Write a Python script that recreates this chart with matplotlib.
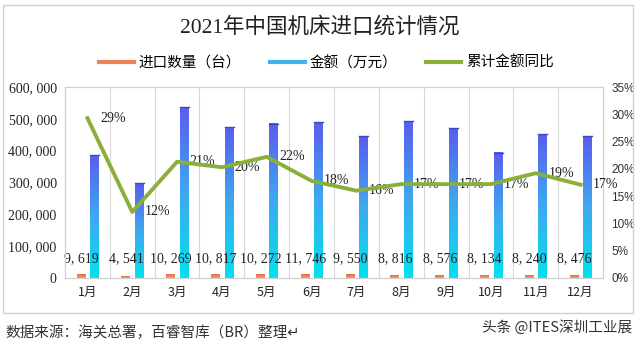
import numpy as np
import matplotlib.pyplot as plt
from matplotlib.patches import Rectangle
from matplotlib.lines import Line2D

months = ['1月', '2月', '3月', '4月', '5月', '6月', '7月', '8月', '9月', '10月', '11月', '12月']
qty = [9619, 4541, 10269, 10817, 10272, 11746, 9550, 8816, 8576, 8134, 8240, 8476]
amount = [386000, 298000, 537000, 474000, 484000, 490000, 446000, 493000, 471000, 393000, 452000, 446000]
yoy = [0.293, 0.121, 0.213, 0.203, 0.222, 0.178, 0.160, 0.172, 0.172, 0.172, 0.192, 0.171]
yoy_labels = ['29%', '12%', '21%', '20%', '22%', '18%', '16%', '17%', '17%', '17%', '19%', '17%']

cjk = ['Noto Sans CJK SC', 'DejaVu Sans']
serif = ['Liberation Serif', 'Noto Sans CJK SC']
plt.rcParams['font.family'] = cjk

fig = plt.figure(figsize=(6.4, 3.5), dpi=100)
ax = fig.add_axes([65 / 640, 1 - 278 / 350, 538 / 640, 191 / 350])
ax2 = ax.twinx()

x = np.arange(len(months))
bw = 0.2
blue_cmap = plt.matplotlib.colors.LinearSegmentedColormap.from_list('b', ['#00E2EE', '#3FA8F0', '#5A5CEE'])
orange_cmap = plt.matplotlib.colors.LinearSegmentedColormap.from_list('o', ['#F0A060', '#E86A50'])
grad = np.linspace(0, 1, 256).reshape(-1, 1)

for i in range(len(months)):
    # orange bar (quantity)
    x0 = x[i] - 0.14 - bw / 2
    ax.imshow(grad, cmap=orange_cmap, origin='lower', aspect='auto',
              extent=(x0, x0 + bw, 0, qty[i]), zorder=2)
    # blue bar (amount)
    x1 = x[i] + 0.16 - bw / 2
    ax.imshow(grad, cmap=blue_cmap, origin='lower', aspect='auto',
              extent=(x1, x1 + bw, 0, amount[i]), zorder=2)
    ax.plot([x1, x1 + bw], [amount[i], amount[i]], color='#4048C0', lw=1, zorder=3)
    ax.text(x[i] - 0.14, 60000, f'{qty[i]:,}'.replace(',', ', '), ha='center', va='center',
            fontsize=10, family=serif, color='#222222', zorder=4, clip_on=False)

ax.set_xlim(-0.5, len(months) - 0.5)
ax.set_ylim(0, 600000)
ax.set_yticks(range(0, 600001, 100000))
ax.set_yticklabels([f'{v:,}'.replace(',', ', ') for v in range(0, 600001, 100000)],
                   family=serif, fontsize=10, color='#222222')
ax.set_xticks(x)
ax.set_xticklabels(months, fontsize=9, color='#222222')
for b in np.arange(0.5, len(months) - 1, 1):
    ax.axvline(b, color='#D8D8D8', lw=0.8, zorder=1)
ax.tick_params(length=0, pad=6)
for s in ax.spines.values():
    s.set_color('#D0D0D0')

ax2.plot(x, yoy, color='#8BAF3A', lw=2.8, zorder=5)
for i in range(len(months)):
    ax2.annotate(yoy_labels[i], (x[i], yoy[i]), xytext=(9, 0), textcoords='offset points',
                 ha='left', va='center', fontsize=10, family=serif, color='#222222')
ax2.set_ylim(0, 0.35)
ax2.set_yticks(np.arange(0, 0.351, 0.05))
ax2.set_yticklabels([f'{int(round(v * 100))}%' for v in np.arange(0, 0.351, 0.05)],
                    family=['Liberation Sans'], fontsize=8.5, color='#333333')
ax2.tick_params(length=0, pad=6)
for s in ax2.spines.values():
    s.set_color('#D0D0D0')
# line above bars
ax2.set_zorder(ax.get_zorder() + 1)
ax2.patch.set_visible(False)

fig.text(0.5, 1 - 27 / 350, '2021年中国机床进口统计情况', ha='center', va='center',
         fontsize=15.5, family=serif, color='#222222')

handles = [Line2D([0], [0], color='#EC8258', lw=3),
           Line2D([0], [0], color='#40B4F0', lw=3),
           Line2D([0], [0], color='#8BAF3A', lw=3)]
fig.legend(handles, ['进口数量（台）', '金额（万元）', '累计金额同比'], loc='center',
           bbox_to_anchor=(0.51, 1 - 63 / 350), ncol=3, frameon=False, fontsize=10.5,
           handlelength=2.4, columnspacing=2.0, handletextpad=0.3)

fig.patches.append(Rectangle((3 / 640, 1 - 313 / 350), 630 / 640, 308 / 350,
                             transform=fig.transFigure, fill=False, ec='#D0D0D0', lw=1))

fig.text(5 / 640, 1 - 333 / 350, '数据来源：海关总署，百睿智库（BR）整理↵', ha='left', va='center',
         fontsize=10.5, style='italic', family=cjk, color='#333333')
fig.text(632 / 640, 1 - 327 / 350, '头条 @ITES深圳工业展', ha='right', va='center',
         fontsize=10.5, family=cjk, color='#333333')

fig.savefig('out.png', dpi=100)
